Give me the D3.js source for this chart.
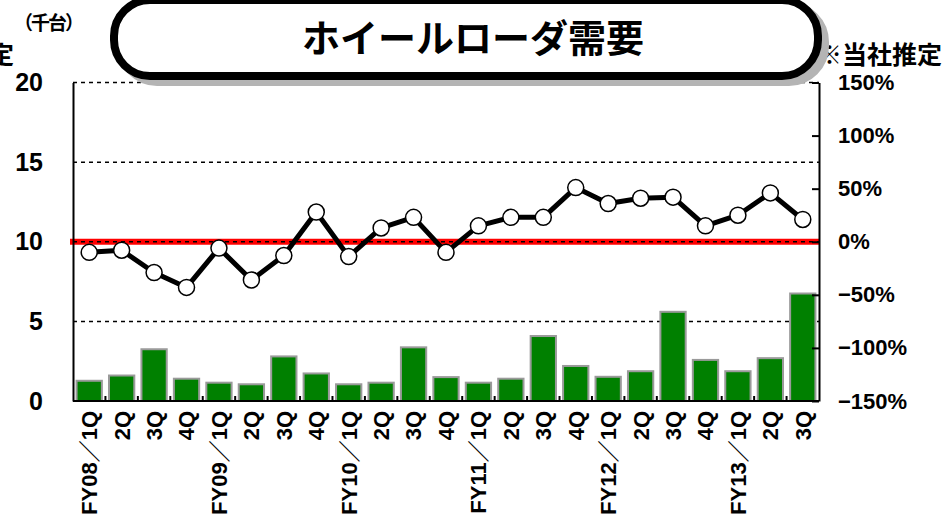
<!DOCTYPE html>
<meta charset="utf-8">
<script src="https://d3js.org/d3.v7.min.js"></script>
<style>
  body { margin: 0; background: #fff; }
  svg { display: block; }
</style>
<div id="chart"></div>
<script>
// quarters (unique keys) and the labels printed under the axis
var periods = ["08-1","08-2","08-3","08-4","09-1","09-2","09-3","09-4","10-1","10-2","10-3","10-4",
               "11-1","11-2","11-3","11-4","12-1","12-2","12-3","12-4","13-1","13-2","13-3"];
var tickLabels = ["FY08／1Q","2Q","3Q","4Q","FY09／1Q","2Q","3Q","4Q","FY10／1Q","2Q","3Q","4Q",
                  "FY11／1Q","2Q","3Q","4Q","FY12／1Q","2Q","3Q","4Q","FY13／1Q","2Q","3Q"];
// demand, thousand units (bars)
var demand = [1.27, 1.6, 3.25, 1.4, 1.15, 1.05, 2.8, 1.73, 1.05, 1.15, 3.37, 1.5,
              1.15, 1.4, 4.08, 2.2, 1.52, 1.87, 5.6, 2.58, 1.87, 2.69, 6.75];
// year-on-year growth, % (line)
var growth = [-10, -8, -29, -43, -6, -36, -13, 28, -14, 13, 23, -10,
              15, 23, 23, 51, 36, 41, 42, 15, 25, 46, 21];
var leftTicks = [0, 5, 10, 15, 20];
var rightTicks = [-150, -100, -50, 0, 50, 100, 150];

var W = 947, H = 524;
var svg = d3.select("#chart").append("svg")
  .attr("width", W).attr("height", H);

var x = d3.scaleBand().domain(periods).range([73, 819]);
var y = d3.scaleLinear().domain([0, 20]).range([401, 82.5]);
var y2 = d3.scaleLinear().domain([-150, 150]).range([401, 82.5]);

var numFont = "'Liberation Sans', Arial, sans-serif";
var jpFont = "'Noto Sans CJK JP', sans-serif";

// gridlines
svg.append("g").selectAll("line")
  .data([5, 15, 20])
  .enter().append("line")
    .attr("x1", x.range()[0]).attr("x2", x.range()[1])
    .attr("y1", function(d) { return y(d); })
    .attr("y2", function(d) { return y(d); })
    .attr("stroke", "#000").attr("stroke-width", 1.5)
    .attr("stroke-dasharray", "4,4");

// red zero-growth line with dashed line on top
svg.append("line")
  .attr("x1", x.range()[0] - 3).attr("x2", x.range()[1])
  .attr("y1", y2(0)).attr("y2", y2(0))
  .attr("stroke", "#ff0000").attr("stroke-width", 6);
svg.append("line")
  .attr("x1", x.range()[0]).attr("x2", x.range()[1])
  .attr("y1", y(10)).attr("y2", y(10))
  .attr("stroke", "#000").attr("stroke-width", 1.5)
  .attr("stroke-dasharray", "4,4");

// bars
var bw = x.bandwidth();
svg.append("g").selectAll("rect")
  .data(demand)
  .enter().append("rect")
    .attr("x", function(d, i) { return x(periods[i]) + bw * 0.11; })
    .attr("y", function(d) { return y(d); })
    .attr("width", bw * 0.78)
    .attr("height", function(d) { return y(0) - y(d); })
    .attr("fill", "#008000")
    .attr("stroke", "#9a9a9a")
    .attr("stroke-width", 2);

// left axis
svg.append("g")
  .attr("transform", "translate(" + x.range()[0] + ",0)")
  .call(d3.axisLeft(y).tickValues(leftTicks).tickSize(0).tickPadding(30))
  .call(function(g) {
    g.select(".domain").attr("stroke", "#000").attr("stroke-width", 2);
    g.selectAll("text").style("font-family", numFont).style("font-size", "25px")
      .style("font-weight", "bold").attr("fill", "#000");
  });

// right axis
svg.append("g")
  .attr("transform", "translate(" + x.range()[1] + ",0)")
  .call(d3.axisRight(y2).tickValues(rightTicks).tickSize(-7).tickSizeOuter(0).tickPadding(19)
    .tickFormat(function(d) { return (d < 0 ? "−" + (-d) : d) + "%"; }))
  .call(function(g) {
    g.select(".domain").attr("stroke", "#000").attr("stroke-width", 2);
    g.selectAll("line").attr("stroke", "#000").attr("stroke-width", 2);
    g.selectAll("text").style("font-family", numFont).style("font-size", "22px")
      .style("font-weight", "bold").attr("fill", "#000");
  });

// bottom axis: baseline, boundary ticks, rotated labels
svg.append("line")
  .attr("x1", x.range()[0]).attr("x2", x.range()[1])
  .attr("y1", y(0)).attr("y2", y(0))
  .attr("stroke", "#000").attr("stroke-width", 2);
svg.append("g").selectAll("line")
  .data(periods.slice(1))
  .enter().append("line")
    .attr("x1", function(d) { return x(d); })
    .attr("x2", function(d) { return x(d); })
    .attr("y1", y(0)).attr("y2", y(0) - 5)
    .attr("stroke", "#000").attr("stroke-width", 2);
svg.append("g").selectAll("text")
  .data(tickLabels)
  .enter().append("text")
    .attr("transform", function(d, i) {
      return "translate(" + (x(periods[i]) + bw / 2) + "," + 411 + ") rotate(-90)";
    })
    .attr("dy", "0.36em")
    .attr("text-anchor", "end")
    .style("font-family", numFont + ", " + jpFont)
    .style("font-size", "22px")
    .style("font-weight", "bold")
    .text(function(d) { return d; });

// growth line and markers
var line = d3.line()
  .x(function(d, i) { return x(periods[i]) + bw / 2; })
  .y(function(d) { return y2(d); });
svg.append("path")
  .datum(growth)
  .attr("d", line)
  .attr("fill", "none")
  .attr("stroke", "#000")
  .attr("stroke-width", 5)
  .attr("stroke-linejoin", "round");
svg.append("g").selectAll("circle")
  .data(growth)
  .enter().append("circle")
    .attr("cx", function(d, i) { return x(periods[i]) + bw / 2; })
    .attr("cy", function(d) { return y2(d); })
    .attr("r", 8)
    .attr("fill", "#fff")
    .attr("stroke", "#000")
    .attr("stroke-width", 1.5);

// notes and units
svg.append("text")
  .attr("x", 48).attr("y", 30)
  .attr("text-anchor", "middle")
  .style("font-family", jpFont).style("font-size", "19px").style("font-weight", "bold")
  .style("letter-spacing", "-2px")
  .text("（千台）");
svg.append("text")
  .attr("x", 14).attr("y", 64)
  .attr("text-anchor", "end")
  .style("font-family", jpFont).style("font-size", "25px").style("font-weight", "bold")
  .text("※当社推定");
svg.append("text")
  .attr("x", 817).attr("y", 64)
  .style("font-family", jpFont).style("font-size", "25px").style("font-weight", "bold")
  .text("※当社推定");

// title box with shadow
svg.append("rect")
  .attr("x", 121).attr("y", 6).attr("width", 704).attr("height", 76)
  .attr("rx", 36).attr("ry", 36)
  .attr("fill", "#b4b4b4").attr("stroke", "#b4b4b4").attr("stroke-width", 8);
svg.append("rect")
  .attr("x", 114).attr("y", 0).attr("width", 704).attr("height", 76)
  .attr("rx", 36).attr("ry", 36)
  .attr("fill", "#fff").attr("stroke", "#000").attr("stroke-width", 8);
svg.append("text")
  .attr("x", 473).attr("y", 38)
  .attr("dy", "0.36em")
  .attr("text-anchor", "middle")
  .style("font-family", jpFont).style("font-size", "38px").style("font-weight", "bold")
  .text("ホイールローダ需要");
</script>
